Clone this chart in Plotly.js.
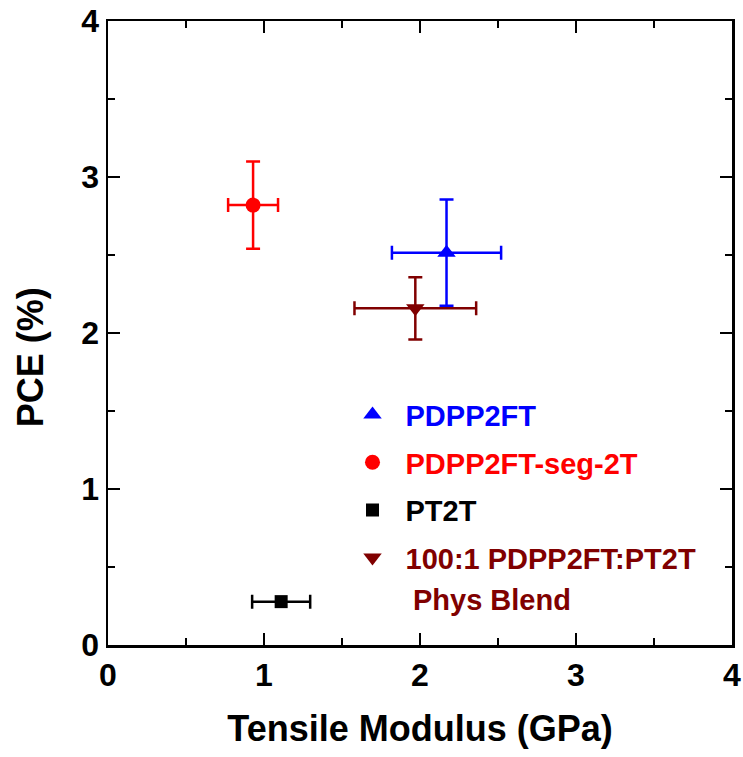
<!DOCTYPE html>
<html>
<head>
<meta charset="utf-8">
<script src="https://cdn.plot.ly/plotly-3.0.1.min.js"></script>
<style>html,body{margin:0;padding:0;background:#fff;}#chart{width:743px;height:757px;}</style>
</head>
<body>
<div id="chart"></div>
<script>
// Data
const seriesNames = ['PDPP2FT', 'PDPP2FT-seg-2T', 'PT2T', '100:1 PDPP2FT:PT2T'];
const seriesNote = 'Phys Blend';
const seriesColors = ['#0000ff', '#ff0000', '#000000', '#800000'];
const seriesSymbols = ['triangle-up', 'circle', 'square', 'triangle-down'];
const modulus = [2.17, 0.93, 1.11, 1.97];        // Tensile modulus (GPa)
const modulusErr = [0.35, 0.16, 0.186, 0.39];
const pce = [2.515, 2.82, 0.278, 2.158];          // PCE (%)
const pceErr = [0.34, 0.28, 0, 0.2];
const tickVals = [0, 1, 2, 3, 4];

const FONT = 'Liberation Sans, Arial, sans-serif';
const markerSizes = [16, 15, 13, 16];
const traces = seriesNames.map((n, i) => ({
  type: 'scatter', mode: 'markers',
  x: [modulus[i]], y: [pce[i]],
  name: '<span style="color:' + seriesColors[i] + '">' + n + '</span>',
  legendgroup: 'g' + i,
  marker: {symbol: seriesSymbols[i], color: seriesColors[i], size: markerSizes[i]},
  error_x: {type: 'data', array: [modulusErr[i]], color: seriesColors[i], thickness: 2.5, width: 7},
  error_y: {type: 'data', array: [pceErr[i]], color: seriesColors[i], thickness: 2.5, width: 7, visible: pceErr[i] > 0}
}));

const axisBase = {
  range: [0, 4], tickvals: tickVals, ticktext: tickVals.map(String),
  showgrid: false, zeroline: false, showline: true, linecolor: '#000', linewidth: 2.5,
  mirror: 'allticks', ticks: 'inside', ticklen: 12, tickwidth: 2.5, tickcolor: '#000',
  minor: {dtick: 0.5, ticks: 'inside', ticklen: 7, tickwidth: 2, tickcolor: '#000'},
  tickfont: {family: FONT, size: 32, color: '#000', weight: 'bold'}
};

const layout = {
  width: 743, height: 757,
  margin: {l: 108, r: 11, t: 21, b: 112},
  paper_bgcolor: '#fff', plot_bgcolor: '#fff',
  font: {family: FONT, color: '#000'},
  showlegend: true,
  legend: {x: 0.371, y: 0.41, xanchor: 'left', yanchor: 'top', bgcolor: 'rgba(0,0,0,0)',
    font: {family: FONT, size: 29, weight: 'bold'}, tracegroupgap: 7, itemwidth: 56},
  annotations: [{
    text: '<b>' + seriesNote + '</b>', xref: 'paper', yref: 'paper', x: 0.486, y: 0.072,
    xanchor: 'left', yanchor: 'middle', showarrow: false,
    font: {family: FONT, size: 29, color: seriesColors[3]}
  }, {
    text: '<b>PCE (%)</b>', xref: 'paper', yref: 'paper', x: -0.1248, y: 0.4615,
    xanchor: 'center', yanchor: 'middle', textangle: -90, showarrow: false,
    font: {family: FONT, size: 36, color: '#000'}
  }],
  xaxis: Object.assign({}, axisBase, {
    title: {text: '<b>Tensile Modulus (GPa)</b>', font: {family: FONT, size: 36, color: '#000'}, standoff: 24}
  }),
  yaxis: Object.assign({}, axisBase)
};

Plotly.newPlot('chart', traces, layout, {displayModeBar: false, staticPlot: true});
</script>
</body>
</html>
